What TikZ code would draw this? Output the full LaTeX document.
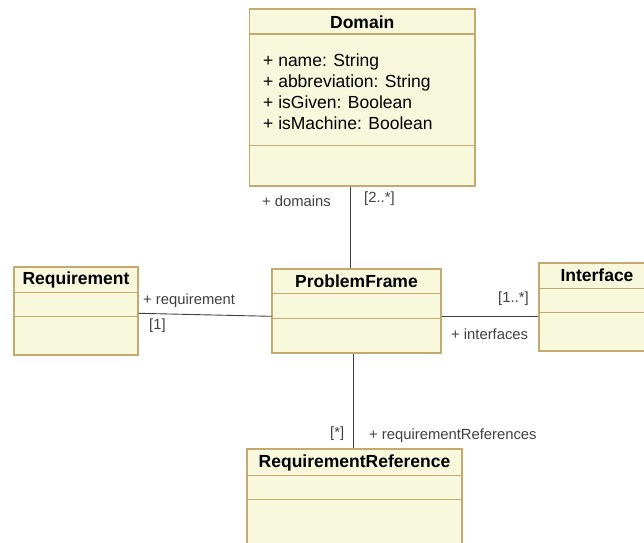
\documentclass[tikz,border=0pt]{standalone}
\usepackage{fontspec}
\setmainfont{Liberation Sans}
\definecolor{classfill}{RGB}{248,248,220}
\definecolor{classedge}{RGB}{196,170,110}
\definecolor{assocline}{RGB}{64,64,64}
\begin{document}
\begin{tikzpicture}[x=1pt,y=-1pt]
\tikzstyle{class}=[draw=classedge,fill=classfill,line width=1.2pt,rectangle,inner sep=0pt]
\tikzstyle{compart}=[draw=classedge,line width=1.2pt]
\tikzstyle{title}=[inner sep=0pt,font=\fontsize{17.5}{21}\selectfont\bfseries]
\tikzstyle{attr}=[inner sep=0pt,anchor=west,align=left,font=\fontsize{17.5}{21}\selectfont]
\tikzstyle{role}=[inner sep=0pt,anchor=west,text=black!75,font=\fontsize{14.8}{18}\selectfont]
\tikzstyle{assoc}=[draw=assocline,line width=0.9pt]
\clip (0,0) rectangle (644,542);
\fill[white] (0,0) rectangle (644,542);
\node[class,minimum width=225.5pt,minimum height=177pt](dom) at (362.25,97.5) {};
\node[class,minimum width=124pt,minimum height=88pt](req) at (76,311) {};
\node[class,minimum width=169pt,minimum height=84pt](pf) at (356.5,311) {};
\node[class,minimum width=116pt,minimum height=88pt](iface) at (597,307) {};
\node[class,minimum width=215pt,minimum height=99pt](rr) at (354.5,498.5) {};
\draw[compart] ([yshift=-25.5pt]dom.north west) -- ([yshift=-25.5pt]dom.north east);
\draw[compart] ([yshift=-137pt]dom.north west) -- ([yshift=-137pt]dom.north east);
\draw[compart] ([yshift=-26pt]req.north west) -- ([yshift=-26pt]req.north east);
\draw[compart] ([yshift=-50pt]req.north west) -- ([yshift=-50pt]req.north east);
\draw[compart] ([yshift=-25pt]pf.north west) -- ([yshift=-25pt]pf.north east);
\draw[compart] ([yshift=-50pt]pf.north west) -- ([yshift=-50pt]pf.north east);
\draw[compart] ([yshift=-26pt]iface.north west) -- ([yshift=-26pt]iface.north east);
\draw[compart] ([yshift=-50pt]iface.north west) -- ([yshift=-50pt]iface.north east);
\draw[compart] ([yshift=-27pt]rr.north west) -- ([yshift=-27pt]rr.north east);
\draw[compart] ([yshift=-51pt]rr.north west) -- ([yshift=-51pt]rr.north east);
\node[title](domt) at (362.25,21.75) {Domain};
\node[title](reqt) at (76,279.5) {Requirement};
\node[title](pft) at (356.5,281.5) {ProblemFrame};
\node[title](ifacet) at (597,275.5) {Interface};
\node[title](rrt) at (354.5,462.5) {RequirementReference};
\node[attr](doma) at (263,91.5) {+ name: String\\+ abbreviation: String\\+ isGiven: Boolean\\+ isMachine: Boolean};
\draw[assoc] ([xshift=-12.25pt]dom.south) -- ([xshift=-12.25pt]dom.south |- pf.north);
\draw[assoc] ([yshift=-2.3pt]req.east) -- ([yshift=-5.3pt]pf.west);
\draw[assoc] ([yshift=-5pt]pf.east) -- ([yshift=-9pt]iface.west);
\draw[assoc] ([xshift=-3.5pt]pf.south) -- ([xshift=-1.5pt]rr.north);
\node[role](domr) at (262,201) {+ domains};
\node[role](domm) at (364,199) {[2..*]};
\node[role](reqr) at (143,300.5) {+ requirement};
\node[role](reqm) at (149,326) {[1]};
\node[role](ifacem) at (498,299) {[1..*]};
\node[role](ifacer) at (451,334) {+ interfaces};
\node[role](rrm) at (330,434) {[*]};
\node[role](rrr) at (369,436) {+ requirementReferences};
\end{tikzpicture}
\end{document}
